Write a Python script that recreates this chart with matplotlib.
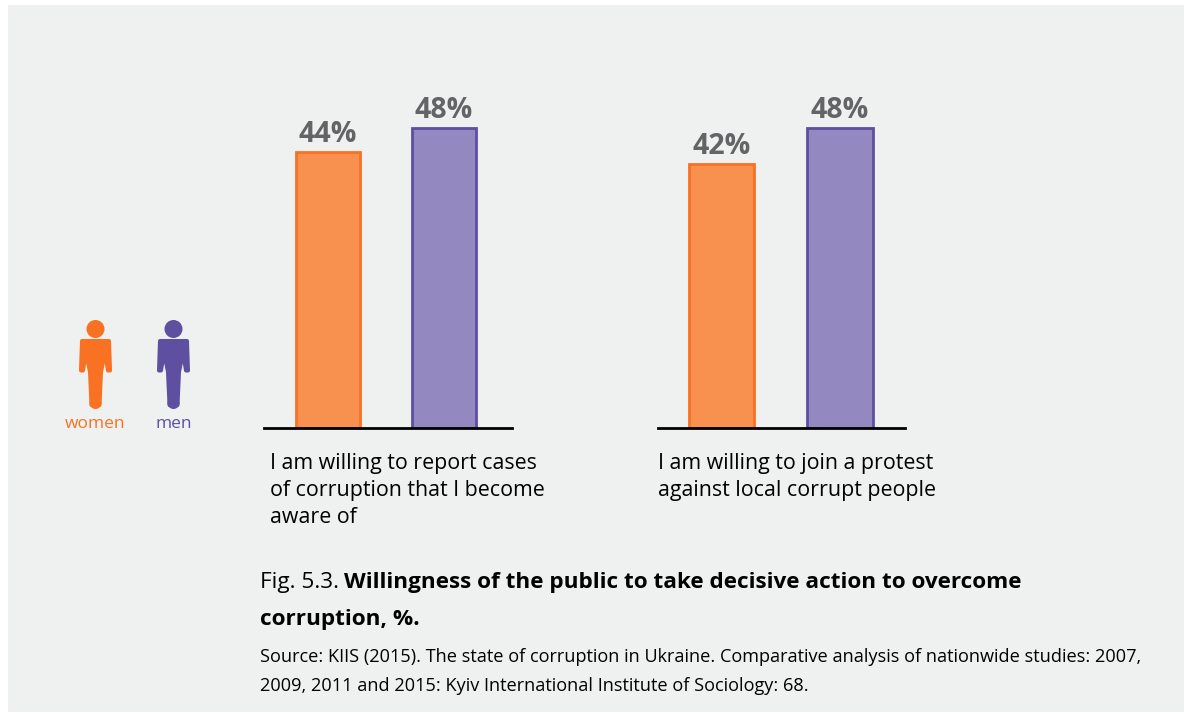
import matplotlib
matplotlib.use("Agg")
import matplotlib.pyplot as plt
from matplotlib.patches import Circle, Polygon, Rectangle

plt.rcParams['font.family'] = ['Open Sans', 'DejaVu Sans']

W, H = 1184, 721

groups = [["I am willing to report cases", "of corruption that I become", "aware of"],
          ["I am willing to join a protest", "against local corrupt people"]]
women = [44, 42]
men = [48, 48]

ORANGE, ORANGE_FILL = "#F97122", "#F8914F"
PURPLE, PURPLE_FILL = "#5E4FA0", "#9488C0"
GRAY = "#636466"
BG = "#EFF0F0"
Y0 = -1.4  # the bars in the source do not quite start at zero


def axes_px(fig, left, right, top, bottom):
    return fig.add_axes([left/W, 1 - bottom/H, (right-left)/W, (bottom-top)/H])


def draw_person(ax, cx, color):
    ax.add_patch(Circle((cx, 329), 9, color=color, lw=0))
    ax.add_patch(Circle((cx, 403), 6, color=color, lw=0))
    right = [(13.5, 341), (14.5, 370.5), (12.5, 370.5), (9.5, 352), (5.5, 372), (4, 405)]
    left = [(-x, y) for x, y in reversed(right)]
    body = [(cx + x, y) for x, y in right + left]
    ax.add_patch(Polygon(body, closed=True, fc=color, ec=color, lw=2.9, joinstyle='round'))


def draw_group(ax, a, b, xlim):
    ax.bar([0], [a - Y0], bottom=Y0, width=0.55, color=ORANGE_FILL, edgecolor=ORANGE, linewidth=2)
    ax.bar([1], [b - Y0], bottom=Y0, width=0.55, color=PURPLE_FILL, edgecolor=PURPLE, linewidth=2)
    for x, v in zip([0, 1], [a, b]):
        ax.text(x, v + 0.5, "{}%".format(v), ha='center', va='bottom',
                fontsize=20.5, fontweight='bold', color=GRAY)
    ax.set_xlim(*xlim)
    ax.set_ylim(Y0, 50.4)
    ax.set_xticks([])
    ax.set_yticks([])
    for s in ['top', 'left', 'right']:
        ax.spines[s].set_visible(False)
    ax.spines['bottom'].set_linewidth(2)
    ax.spines['bottom'].set_color('black')
    ax.patch.set_alpha(0)


fig = plt.figure(figsize=(W/100, H/100), dpi=100, facecolor='white')

# background layer in pixel coordinates
bg = fig.add_axes([0, 0, 1, 1])
bg.set_xlim(0, W)
bg.set_ylim(H, 0)
bg.axis('off')
bg.add_patch(Rectangle((8, 5), W-8, 707, fc=BG, ec='none'))

draw_person(bg, 95.5, ORANGE)
draw_person(bg, 173.5, PURPLE)
bg.text(95.5, 424, "women", color=ORANGE, fontsize=12.5, ha='center', va='center')
bg.text(173.5, 424, "men", color=PURPLE, fontsize=12.5, ha='center', va='center')

ax1 = axes_px(fig, 264, 512, 113, 428)
draw_group(ax1, women[0], men[0], (-0.55, 1.586))
ax2 = axes_px(fig, 658, 905, 113, 428)
draw_group(ax2, women[1], men[1], (-0.536, 1.549))

for x, lines in zip([270, 658], groups):
    for i, line in enumerate(lines):
        bg.text(x, 469 + 27*i, line, fontsize=15.4, va='baseline', ha='left', color='black')

bg.text(260, 588, "Fig. 5.3.", fontsize=16.2, va='baseline', color='black')
bg.text(344, 588, "Willingness of the public to take decisive action to overcome",
        fontsize=16.2, fontweight='bold', va='baseline', color='black')
bg.text(260, 625.5, "corruption, %.", fontsize=16.2, fontweight='bold', va='baseline', color='black')

bg.text(260, 662, "Source: KIIS (2015). The state of corruption in Ukraine. Comparative analysis of nationwide studies: 2007,",
        fontsize=13.1, va='baseline', color='black')
bg.text(260, 691, "2009, 2011 and 2015: Kyiv International Institute of Sociology: 68.",
        fontsize=13.1, va='baseline', color='black')

fig.savefig("out.png", dpi=100, facecolor=fig.get_facecolor())
